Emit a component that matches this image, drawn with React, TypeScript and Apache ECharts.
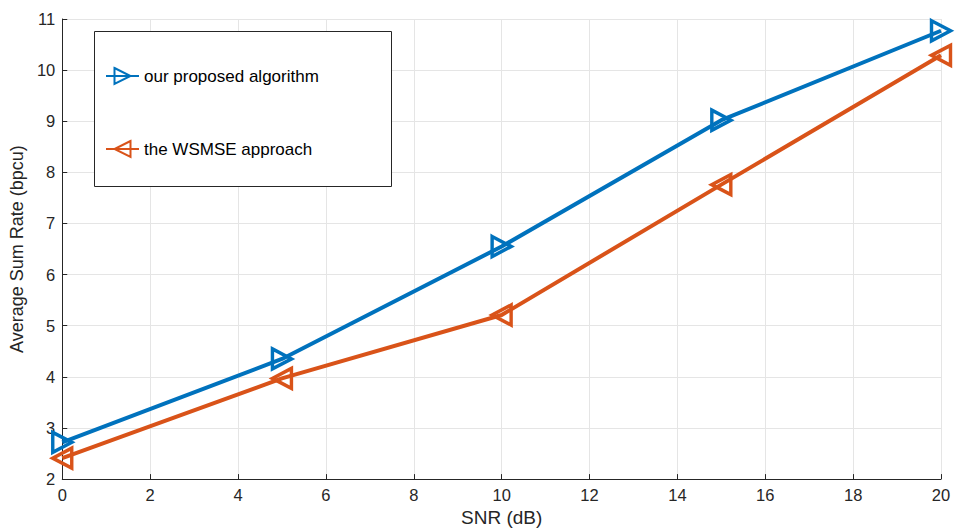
import React, { useEffect, useRef } from "react";
import * as echarts from "echarts";

const snr = [0, 5, 10, 15, 20];
const proposed = [2.72, 4.35, 6.55, 9.02, 10.77];
const wsmse = [2.41, 3.97, 5.21, 7.76, 10.29];
const seriesNames = ["our proposed algorithm", "the WSMSE approach"];

const BLUE = "#0072BD";
const ORANGE = "#D95319";
const FONT = "'Liberation Sans', Arial, Helvetica, sans-serif";
const TRI_RIGHT = "path://M0,0 L17,9 L0,18 Z";
const TRI_LEFT = "path://M17,0 L0,9 L17,18 Z";

export default function App() {
  const ref = useRef<HTMLDivElement>(null);
  useEffect(() => {
    const chart = echarts.init(ref.current!, null, { renderer: "svg" });
    const mk = (name: string, data: number[], color: string, sym: string) => ({
      name,
      type: "line",
      data: snr.map((x, i) => [x, data[i]]),
      symbol: sym,
      symbolSize: [19, 20],
      showAllSymbol: true,
      lineStyle: { color, width: 4 },
      itemStyle: { color: "rgba(255,255,255,0)", borderColor: color, borderWidth: 3.5 },
      emphasis: { disabled: true },
    });
    chart.setOption({
      animation: false,
      textStyle: { fontFamily: FONT },
      grid: { left: 61, right: 15, top: 19, bottom: 48, containLabel: false },
      xAxis: {
        type: "value",
        min: 0,
        max: 20,
        interval: 2,
        name: "SNR (dB)",
        nameLocation: "middle",
        nameGap: 27,
        nameTextStyle: { fontSize: 19, color: "#262626", fontFamily: FONT },
        axisLine: { show: true, lineStyle: { color: "#262626", width: 1 } },
        axisTick: { show: true, inside: true, length: 5, lineStyle: { color: "#262626" } },
        axisLabel: { fontSize: 16.5, color: "#262626", margin: 7, fontFamily: FONT },
        splitLine: { show: true, lineStyle: { color: "#e5e5e5", width: 1 } },
      },
      yAxis: {
        type: "value",
        min: 2,
        max: 11,
        interval: 1,
        name: "Average Sum Rate (bpcu)",
        nameLocation: "middle",
        nameGap: 32,
        nameTextStyle: { fontSize: 18, color: "#262626", fontFamily: FONT },
        axisLine: { show: true, lineStyle: { color: "#262626", width: 1 } },
        axisTick: { show: true, inside: true, length: 5, lineStyle: { color: "#262626" } },
        axisLabel: { fontSize: 16.5, color: "#262626", margin: 7, fontFamily: FONT },
        splitLine: { show: true, lineStyle: { color: "#e5e5e5", width: 1 } },
      },
      graphic: [
        {
          type: "rect",
          shape: { x: 94.5, y: 31.5, width: 297, height: 155 },
          style: { fill: "#fff", stroke: "#262626", lineWidth: 1 },
          z: 10,
        },
      ],
      legend: {
        orient: "vertical",
        left: 100,
        top: 61,
        itemGap: 53,
        itemWidth: 33,
        itemHeight: 20,
        z: 20,
        selectedMode: false,
        textStyle: { fontSize: 17, lineHeight: 20, color: "#000", fontFamily: FONT },
        data: seriesNames,
      },
      series: [
        mk(seriesNames[0], proposed, BLUE, TRI_RIGHT),
        mk(seriesNames[1], wsmse, ORANGE, TRI_LEFT),
      ],
    });
    return () => chart.dispose();
  }, []);
  return (
    <div
      ref={ref}
      style={{ position: "absolute", left: 0, top: 0, width: 956, height: 532 }}
    />
  );
}
